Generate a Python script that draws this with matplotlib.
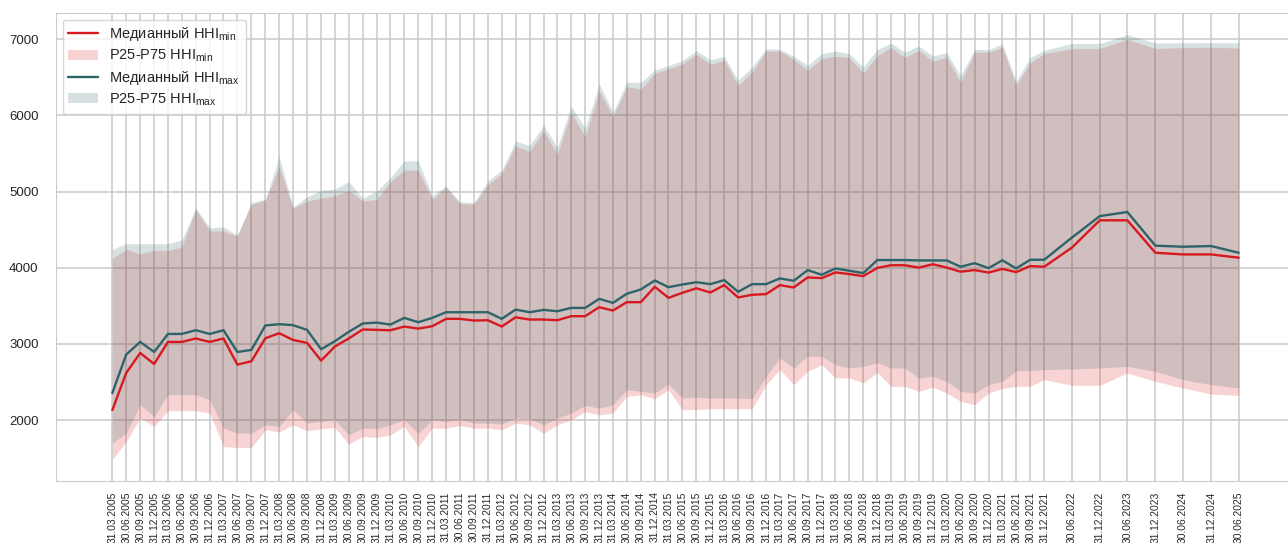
import pandas as pd
import matplotlib
matplotlib.use("Agg")
import matplotlib.pyplot as plt
import seaborn as sns
from matplotlib.lines import Line2D
from matplotlib.patches import Patch

sns.set_style("whitegrid")
plt.rcParams["font.family"] = ["Liberation Sans", "DejaVu Sans"]
plt.rcParams["mathtext.fontset"] = "custom"
plt.rcParams["mathtext.rm"] = "Liberation Sans"

date_labels = [
    "31.03.2005", "30.06.2005", "30.09.2005", "31.12.2005",
    "31.03.2006", "30.06.2006", "30.09.2006", "31.12.2006",
    "31.03.2007", "30.06.2007", "30.09.2007", "31.12.2007",
    "31.03.2008", "30.06.2008", "30.09.2008", "31.12.2008",
    "31.03.2009", "30.06.2009", "30.09.2009", "31.12.2009",
    "31.03.2010", "30.06.2010", "30.09.2010", "31.12.2010",
    "31.03.2011", "30.06.2011", "30.09.2011", "31.12.2011",
    "31.03.2012", "30.06.2012", "30.09.2012", "31.12.2012",
    "31.03.2013", "30.06.2013", "30.09.2013", "31.12.2013",
    "31.03.2014", "30.06.2014", "30.09.2014", "31.12.2014",
    "31.03.2015", "30.06.2015", "30.09.2015", "31.12.2015",
    "31.03.2016", "30.06.2016", "30.09.2016", "31.12.2016",
    "31.03.2017", "30.06.2017", "30.09.2017", "31.12.2017",
    "31.03.2018", "30.06.2018", "30.09.2018", "31.12.2018",
    "31.03.2019", "30.06.2019", "30.09.2019", "31.12.2019",
    "31.03.2020", "30.06.2020", "30.09.2020", "31.12.2020",
    "31.03.2021", "30.06.2021", "30.09.2021", "31.12.2021",
    "30.06.2022", "31.12.2022", "30.06.2023", "31.12.2023",
    "30.06.2024", "31.12.2024", "30.06.2025",
]

med_min = [2131, 2618, 2881, 2736, 3026, 3026, 3071, 3026, 3071, 2728, 2772, 3075,
           3140, 3052, 3013, 2781, 2965, 3071, 3189, 3185, 3179, 3228, 3201, 3232,
           3329, 3329, 3307, 3311, 3228, 3350, 3320, 3320, 3311, 3364, 3364, 3482,
           3438, 3548, 3548, 3750, 3605, 3671, 3730, 3675, 3772, 3610, 3645, 3654,
           3772, 3741, 3873, 3864, 3939, 3917, 3890, 3998, 4033, 4033, 4002, 4046,
           4002, 3948, 3970, 3937, 3985, 3943, 4022, 4013, 4263, 4623, 4623, 4197,
           4175, 4175, 4132]
med_max = [2355, 2860, 3026, 2894, 3131, 3131, 3180, 3131, 3180, 2894, 2921, 3242,
           3259, 3246, 3184, 2930, 3035, 3158, 3268, 3280, 3254, 3342, 3285, 3342,
           3416, 3416, 3416, 3416, 3329, 3451, 3416, 3447, 3429, 3473, 3473, 3592,
           3539, 3658, 3715, 3833, 3745, 3780, 3810, 3785, 3838, 3684, 3785, 3785,
           3860, 3829, 3969, 3908, 3991, 3961, 3930, 4101, 4101, 4101, 4096, 4096,
           4096, 4013, 4060, 3995, 4098, 3991, 4105, 4105, 4395, 4678, 4732, 4290,
           4276, 4285, 4197]
p75_min = [4123, 4242, 4184, 4229, 4229, 4272, 4768, 4483, 4483, 4417, 4834, 4887,
           5325, 4781, 4877, 4913, 4943, 5018, 4877, 4895, 5132, 5281, 5281, 4899,
           5053, 4842, 4833, 5088, 5237, 5601, 5526, 5798, 5491, 6040, 5719, 6325,
           5983, 6378, 6347, 6553, 6610, 6676, 6805, 6671, 6724, 6395, 6570, 6846,
           6846, 6737, 6592, 6746, 6776, 6759, 6557, 6783, 6892, 6760, 6853, 6713,
           6765, 6430, 6831, 6831, 6892, 6400, 6690, 6812, 6875, 6880, 7000, 6880,
           6890, 6895, 6885]
p75_max = [4242, 4316, 4316, 4316, 4316, 4364, 4781, 4526, 4535, 4430, 4855, 4900,
           5457, 4799, 4930, 5018, 5031, 5132, 4913, 5009, 5184, 5404, 5404, 4943,
           5075, 4868, 4855, 5140, 5281, 5667, 5601, 5873, 5579, 6123, 5834, 6413,
           6040, 6435, 6435, 6597, 6654, 6720, 6853, 6732, 6776, 6461, 6636, 6877,
           6868, 6776, 6658, 6811, 6846, 6811, 6636, 6865, 6950, 6830, 6912, 6780,
           6825, 6520, 6868, 6862, 6940, 6450, 6760, 6855, 6945, 6945, 7060, 6950,
           6955, 6955, 6955]
p25_min = [1478, 1719, 2026, 1917, 2123, 2123, 2123, 2092, 1653, 1640, 1640, 1873,
           1842, 1939, 1860, 1886, 1904, 1684, 1785, 1772, 1806, 1916, 1653, 1894,
           1894, 1929, 1894, 1894, 1872, 1960, 1938, 1828, 1938, 2004, 2113, 2070,
           2091, 2311, 2333, 2280, 2399, 2135, 2140, 2149, 2149, 2149, 2149, 2465,
           2662, 2465, 2640, 2728, 2553, 2553, 2487, 2625, 2443, 2443, 2377, 2430,
           2355, 2246, 2202, 2355, 2412, 2443, 2443, 2531, 2456, 2456, 2618, 2509,
           2421, 2342, 2324]
p25_max = [1697, 1829, 2202, 2048, 2334, 2334, 2334, 2268, 1894, 1829, 1829, 1939,
           1917, 2136, 1960, 1983, 2005, 1807, 1894, 1886, 1938, 2004, 1828, 2004,
           1982, 2004, 1960, 1960, 1947, 2026, 2017, 1938, 2026, 2091, 2192, 2157,
           2201, 2399, 2377, 2355, 2473, 2289, 2300, 2289, 2289, 2289, 2281, 2575,
           2816, 2684, 2838, 2838, 2728, 2684, 2706, 2755, 2684, 2684, 2553, 2575,
           2509, 2377, 2355, 2465, 2509, 2649, 2649, 2662, 2671, 2684, 2706, 2640,
           2531, 2465, 2421]

dates = pd.to_datetime(date_labels, format="%d.%m.%Y")

red = "#d7191f"
teal = "#2e6467"
alpha = 0.19

fig = plt.figure(figsize=(12.88, 5.43), dpi=100)
ax = fig.add_axes([56 / 1288, 62 / 543, 1239 / 1288, 468 / 543])

ax.fill_between(dates, p25_min, p75_min, color=red, alpha=alpha, lw=0, zorder=2)
ax.fill_between(dates, p25_max, p75_max, color=teal, alpha=alpha, lw=0, zorder=2)
ax.plot(dates, med_min, color=red, lw=1.7, zorder=4)
ax.plot(dates, med_max, color=teal, lw=1.7, zorder=4)

ax.set_xticks(dates)
ax.set_xticklabels(date_labels, rotation=90, fontsize=7.4)
ax.set_ylim(1200, 7345)
ax.set_yticks([2000, 3000, 4000, 5000, 6000, 7000])
ax.tick_params(axis="y", labelsize=9.5, pad=9)
ax.tick_params(axis="x", pad=4)
ax.grid(True, color="#c9c9c9", lw=1.1)
ax.set_axisbelow(True)

handles = [
    Line2D([], [], color=red, lw=1.7),
    Patch(facecolor=red, alpha=alpha, edgecolor="none"),
    Line2D([], [], color=teal, lw=1.7),
    Patch(facecolor=teal, alpha=alpha, edgecolor="none"),
]
labels = [
    r"Медианный HHI$_{\mathrm{min}}$",
    r"P25-P75 HHI$_{\mathrm{min}}$",
    r"Медианный HHI$_{\mathrm{max}}$",
    r"P25-P75 HHI$_{\mathrm{max}}$",
]
ax.legend(handles, labels, loc="upper left", fontsize=10.5, frameon=True,
          labelspacing=0.3, borderaxespad=0.45)

fig.savefig("out.png", dpi=100)
